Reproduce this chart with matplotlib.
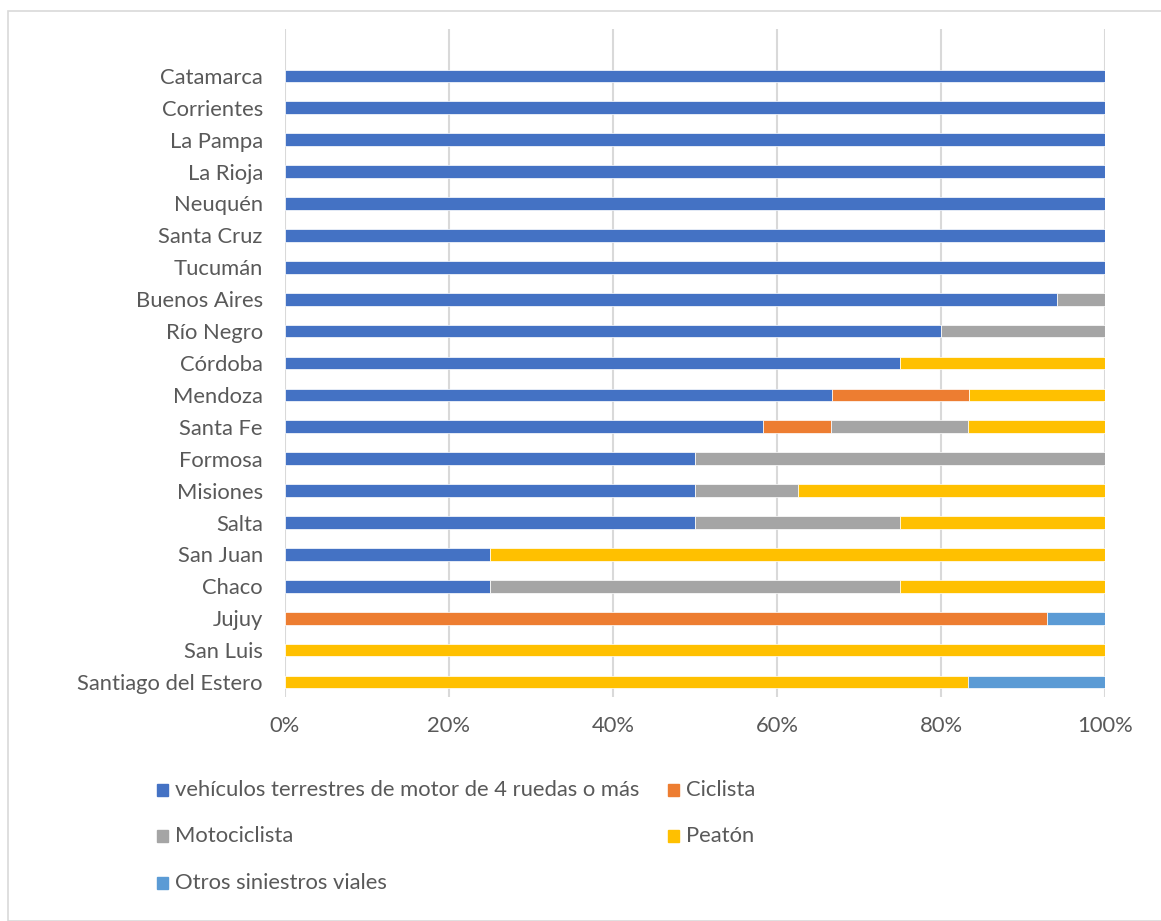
import matplotlib
matplotlib.use('Agg')
import matplotlib.pyplot as plt
from matplotlib.patches import Rectangle
from matplotlib.ticker import PercentFormatter

provincias = ['Catamarca', 'Corrientes', 'La Pampa', 'La Rioja', 'Neuquén', 'Santa Cruz',
              'Tucumán', 'Buenos Aires', 'Río Negro', 'Córdoba', 'Mendoza', 'Santa Fe',
              'Formosa', 'Misiones', 'Salta', 'San Juan', 'Chaco', 'Jujuy', 'San Luis',
              'Santiago del Estero']
vehiculos = [100, 100, 100, 100, 100, 100, 100, 94.1, 80, 75, 66.7, 58.3, 50, 50, 50, 25, 25, 0, 0, 0]
ciclista = [0, 0, 0, 0, 0, 0, 0, 0, 0, 0, 16.7, 8.3, 0, 0, 0, 0, 0, 92.9, 0, 0]
motociclista = [0, 0, 0, 0, 0, 0, 0, 5.9, 20, 0, 0, 16.7, 50, 12.5, 25, 0, 50, 0, 0, 0]
peaton = [0, 0, 0, 0, 0, 0, 0, 0, 0, 25, 16.7, 16.7, 0, 37.5, 25, 75, 25, 0, 100, 83.3]
otros = [0, 0, 0, 0, 0, 0, 0, 0, 0, 0, 0, 0, 0, 0, 0, 0, 0, 7.1, 0, 16.7]

series = [
    ('vehículos terrestres de motor de 4 ruedas o más', vehiculos, '#4472C4'),
    ('Ciclista', ciclista, '#ED7D31'),
    ('Motociclista', motociclista, '#A5A5A5'),
    ('Peatón', peaton, '#FFC000'),
    ('Otros siniestros viales', otros, '#5B9BD5'),
]

plt.rcParams['font.family'] = ['Lato', 'DejaVu Sans']
txt = '#595959'
fs = 15.8

fig = plt.figure(figsize=(11.61, 9.21), dpi=100)
ax = fig.add_axes([285 / 1161, 1 - 697 / 921, 820 / 1161, 668 / 921])

ypos = list(range(len(provincias)))
left = [0] * len(provincias)
for name, vals, col in series:
    ax.barh(ypos, vals, left=left, height=0.4, color=col, edgecolor='white', linewidth=0.5, label=name)
    left = [a + b for a, b in zip(left, vals)]

ax.set_xlim(0, 100)
ax.set_ylim(19.47, -1.47)
ax.set_yticks(ypos)
ax.set_yticklabels(provincias)
ax.set_xticks([0, 20, 40, 60, 80, 100])
ax.xaxis.set_major_formatter(PercentFormatter(decimals=0))
ax.tick_params(length=0, labelsize=fs, colors=txt)
ax.tick_params(axis='x', pad=14)
ax.tick_params(axis='y', pad=16)
ax.grid(axis='x', color='#D9D9D9', linewidth=1.5)
ax.set_axisbelow(True)
for s in ax.spines.values():
    s.set_visible(False)

# legend drawn by hand, row-major like the original
spots = [(157, 790), (668, 790), (157, 836), (668, 836), (157, 883)]
for (name, vals, col), (px, py) in zip(series, spots):
    fig.patches.append(Rectangle((px / 1161, 1 - (py + 6) / 921), 11 / 1161, 12 / 921,
                                 transform=fig.transFigure, color=col))
    fig.text((px + 18) / 1161, 1 - py / 921, name, fontsize=fs, color=txt, va='center')

# chart border
fig.patches.append(Rectangle((8 / 1161, 0), 1 - 8 / 1161 + 0.01, 1 - 11 / 921, transform=fig.transFigure,
                             fill=False, edgecolor='#D9D9D9', linewidth=1.2))

fig.savefig('out.png', dpi=100)
